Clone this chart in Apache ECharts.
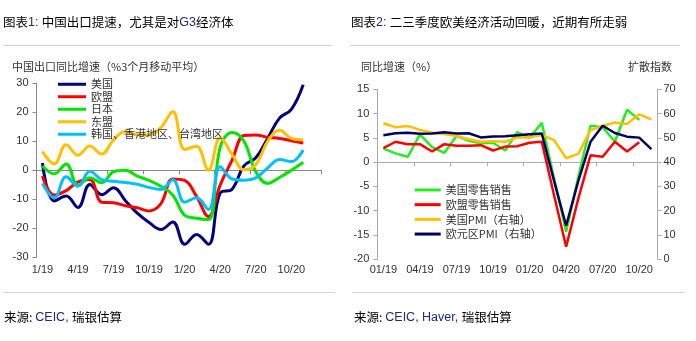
<!DOCTYPE html>
<html><head><meta charset="utf-8">
<script src="https://cdn.jsdelivr.net/npm/echarts@6/dist/echarts.min.js"></script>
<style>html,body{margin:0;padding:0;background:#fff;}#c{width:696px;height:341px;}</style>
</head><body><div id="c"></div>
<script>
// ---------- Left chart: China export growth (% 3mma) ----------
const leftMonths = ['1/19','2/19','3/19','4/19','5/19','6/19','7/19','8/19','9/19','10/19','11/19','12/19',
                    '1/20','2/20','3/20','4/20','5/20','6/20','7/20','8/20','9/20','10/20','11/20','12/20'];
const usa   = [2.5,-10.6,-8.9,-12.8,-4.9,-8.4,-6.0,-10.5,-14.8,-18,-20.4,-17.8,-25.5,-22.1,-25.5,-7.8,-6.5,1.5,4.3,11,18,21,29.5];
const eu    = [-2,-8.5,-7,-4,-3.2,-11,-11.2,-12.2,-12.9,-14,-11.5,-3,-3.5,-9,-16,-5,3.5,12,12.2,11.4,11,10.2,9.4];
const japan = [1.5,-1.2,2.2,-5.2,-2.6,-4.3,-0.5,0,-2,-3.5,-5.5,-8.5,-15.5,-16.5,-17,8,13,10,-0.5,-4.5,-2.5,0,2.8];
const asean = [6.5,2.2,8.8,5.2,8.4,5.6,10.5,13.4,12.2,12.2,14.8,20.3,7.2,8.3,0,11.2,5.5,0.2,2,10,13.8,11,10.5];
const asia  = [-4.5,-9.5,-2.2,-5.5,-0.3,-3.2,-3.8,-4.2,-4.8,-5.9,-6.6,-3.3,-11,-9.5,-13.5,1.2,-3,-3.4,-2.6,0.8,3.7,3,7];
const leftNames = ['美国','欧盟','日本','东盟','韩国、香港地区、台湾地区'];

// ---------- Right chart: retail sales & PMI ----------
const rightMonths = ['01/19','02/19','03/19','04/19','05/19','06/19','07/19','08/19','09/19','10/19','11/19','12/19',
                     '01/20','02/20','03/20','04/20','05/20','06/20','07/20','08/20','09/20','10/20','11/20'];
const usRetail = [2.8,1.8,1.1,5.7,3.1,1.9,5.4,4.4,3.9,4.0,2.4,6.2,5.0,8.1,-3.2,-14.3,-3,7.5,7.2,4.2,10.8,8.7];
const euRetail = [2.9,4.2,3.7,3.7,2.2,3.7,3.4,3.4,3.5,2.4,3.2,3.3,4.0,4.2,-6.7,-17.4,-7.5,1.4,1.1,4.2,2.2,4.1];
const usPMI    = [56.0,54.4,54.9,53.3,52.1,51.6,50.8,49.4,48.4,48.6,48.4,50.2,50.2,51.2,49.1,41.6,43.4,53.2,54.9,56.3,55.7,59.7,57.6];
const euPMI    = [51.1,51.9,52.1,51.7,51.8,52.3,51.8,51.9,50.2,50.6,50.7,51.1,51.5,51.8,32.5,13.8,32.3,48.4,55.0,52.0,50.5,50.1,45.4];
const rightNames = ['美国零售销售','欧盟零售销售','美国PMI（右轴）','欧元区PMI（右轴）'];

const CJK = '"Noto Sans CJK SC", sans-serif';
const NUM = '"Liberation Sans", Arial, "Noto Sans CJK SC", sans-serif';

const chart = echarts.init(document.getElementById('c'), null, {renderer:'canvas'});

function lbl(extra){ return Object.assign({color:'#333', fontSize:11, fontFamily:NUM}, extra); }

const leftColors = ['#000080','#ff0000','#00e600','#ffc000','#00bfff'];
const leftData = [usa, eu, japan, asean, asia];
const rightColors = ['#22ee22','#ff0000','#ffc000','#000060'];

const series = [];
leftData.forEach((d,i)=>{
  series.push({name:leftNames[i], type:'line', xAxisIndex:0, yAxisIndex:0, data:d, smooth:0.4,
    symbol:'none', lineStyle:{width:3, color:leftColors[i]}, itemStyle:{color:leftColors[i]}});
});
[[usRetail,1],[euRetail,1],[usPMI,2],[euPMI,2]].forEach((p,i)=>{
  series.push({name:rightNames[i], type:'line', xAxisIndex:2, yAxisIndex:p[1], data:p[0], smooth:false,
    symbol:'none', lineStyle:{width:2.5, color:rightColors[i]}, itemStyle:{color:rightColors[i]}});
});

const HDR = 12.5;
const option = {
  animation:false,
  backgroundColor:'#fff',
  grid:[
    {left:36.5, right:375, top:83.3, bottom:83.7},
    {left:377.3, right:38.5, top:89.3, bottom:81.7}
  ],
  xAxis:[
    {gridIndex:0, type:'category', data:leftMonths, boundaryGap:true, position:'bottom',
     axisLine:{show:false, onZero:false}, axisTick:{show:false},
     axisLabel:lbl({interval:2, margin:7})},
    {gridIndex:0, type:'category', data:leftMonths, boundaryGap:true, position:'bottom',
     axisLine:{show:true, onZero:true, lineStyle:{color:'#888', width:1}},
     axisTick:{show:true, interval:2, length:4, lineStyle:{color:'#888'}},
     axisLabel:{show:false}},
    {gridIndex:1, type:'category', data:rightMonths, boundaryGap:true, position:'bottom',
     axisLine:{show:false, onZero:false}, axisTick:{show:false},
     axisLabel:lbl({interval:2, margin:5})},
    {gridIndex:1, type:'category', data:rightMonths, boundaryGap:true, position:'bottom',
     axisLine:{show:true, onZero:true, lineStyle:{color:'#aaa', width:1}},
     axisTick:{show:true, interval:2, length:4, lineStyle:{color:'#aaa'}},
     axisLabel:{show:false}}
  ],
  yAxis:[
    {gridIndex:0, type:'value', min:-30, max:30, interval:10, position:'left',
     axisLine:{show:true, onZero:false, lineStyle:{color:'#888'}},
     axisTick:{show:true, length:4, lineStyle:{color:'#888'}},
     splitLine:{show:false}, axisLabel:lbl({margin:8})},
    {gridIndex:1, type:'value', min:-20, max:15, interval:5, position:'left',
     axisLine:{show:true, onZero:false, lineStyle:{color:'#aaa'}},
     axisTick:{show:true, length:4, lineStyle:{color:'#aaa'}},
     splitLine:{show:false}, axisLabel:lbl({margin:8})},
    {gridIndex:1, type:'value', min:0, max:70, interval:10, position:'right',
     axisLine:{show:true, onZero:false, lineStyle:{color:'#aaa'}},
     axisTick:{show:true, length:4, lineStyle:{color:'#aaa'}},
     splitLine:{show:false}, axisLabel:lbl({margin:6})}
  ],
  legend:[
    {data:leftNames, orient:'vertical', left:58, top:78, padding:0, itemGap:0,
     itemWidth:28, itemHeight:3, icon:'rect',
     textStyle:{fontSize:11, lineHeight:12.5, color:'#333', fontFamily:CJK}},
    {data:rightNames, orient:'vertical', left:414.7, top:182.6, padding:0, itemGap:0,
     itemWidth:26, itemHeight:3, icon:'rect',
     textStyle:{fontSize:11, lineHeight:14.7, color:'#333', fontFamily:CJK}}
  ],
  graphic:[
    {type:'text', left:3, top:16, style:{
      text:'{a|图表}{b|1:} {a|中国出口提速，尤其是对}{b|G3}{a|经济体}',
      rich:{a:{fontSize:HDR, fontFamily:CJK, fill:'#000'}, b:{fontSize:HDR, fontFamily:NUM, fill:'#1c2a80'}}}},
    {type:'line', shape:{x1:3, y1:45.5, x2:332, y2:45.5}, style:{stroke:'#d4d4d4', lineWidth:1}},
    {type:'text', left:351, top:16, style:{
      text:'{a|图表}{b|2:} {a|二三季度欧美经济活动回暖，近期有所走弱}',
      rich:{a:{fontSize:HDR, fontFamily:CJK, fill:'#000'}, b:{fontSize:HDR, fontFamily:NUM, fill:'#1c2a80'}}}},
    {type:'line', shape:{x1:350, y1:45.5, x2:680, y2:45.5}, style:{stroke:'#d4d4d4', lineWidth:1}},
    {type:'text', left:12, top:61, style:{text:'中国出口同比增速（%3个月移动平均）', fontSize:11, fontFamily:CJK, fill:'#333'}},
    {type:'text', left:361, top:61, style:{text:'同比增速（%）', fontSize:11, fontFamily:CJK, fill:'#333'}},
    {type:'text', right:24, top:61, style:{text:'扩散指数', fontSize:11, fontFamily:CJK, fill:'#333'}},
    {type:'line', shape:{x1:3, y1:292.5, x2:335, y2:292.5}, style:{stroke:'#d4d4d4', lineWidth:1}},
    {type:'line', shape:{x1:352, y1:292.5, x2:685, y2:292.5}, style:{stroke:'#d4d4d4', lineWidth:1}},
    {type:'text', left:4, top:311, style:{
      text:'{a|来源: }{b|CEIC, }{a|瑞银估算}',
      rich:{a:{fontSize:HDR, fontFamily:CJK, fill:'#000'}, b:{fontSize:HDR, fontFamily:NUM, fill:'#1c2a80'}}}},
    {type:'text', left:354, top:311, style:{
      text:'{a|来源: }{b|CEIC, Haver, }{a|瑞银估算}',
      rich:{a:{fontSize:HDR, fontFamily:CJK, fill:'#000'}, b:{fontSize:HDR, fontFamily:NUM, fill:'#1c2a80'}}}}
  ],
  series:series
};
chart.setOption(option);
</script>
</body></html>
